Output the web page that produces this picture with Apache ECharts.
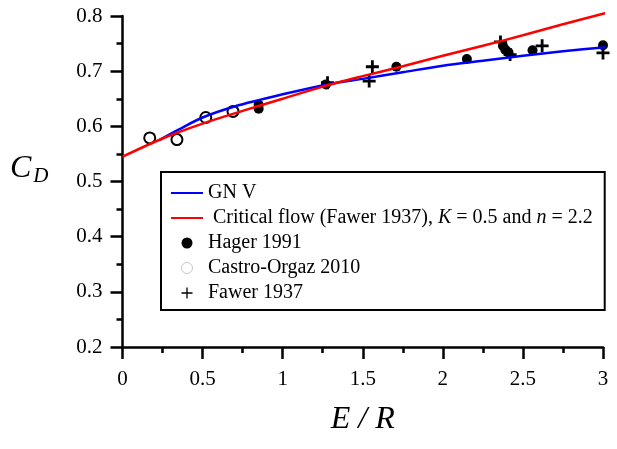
<!DOCTYPE html>
<html>
<head>
<meta charset="utf-8">
<script src="https://cdn.jsdelivr.net/npm/echarts@6/dist/echarts.min.js"></script>
<style>
  html, body { margin: 0; padding: 0; background: #fff; }
  #chart { width: 617px; height: 449px; }
</style>
</head>
<body>
<div id="chart"></div>
<script>
// GN V curve
const gnX = [0.23, 0.35, 0.5, 0.7, 1.0, 1.28, 1.5, 1.75, 2.0, 2.25, 2.5, 2.75, 3.0, 3.07];
const gnY = [0.575, 0.594, 0.616, 0.636, 0.658, 0.676, 0.686, 0.698, 0.710, 0.719, 0.728, 0.736, 0.743, 0.745];

// Critical flow (Fawer 1937)
const cfX = [0, 0.25, 0.5, 0.75, 1.0, 1.25, 1.5, 1.75, 2.0, 2.25, 2.5, 2.75, 3.0, 3.03];
const cfY = [0.545, 0.578, 0.605, 0.628, 0.650, 0.672, 0.691, 0.709, 0.728, 0.746, 0.765, 0.785, 0.804, 0.806];

// Hager 1991
const hagerX = [0.85, 0.85, 1.27, 1.71, 2.15, 2.375, 2.39, 2.41, 2.56, 3.0];
const hagerY = [0.639, 0.632, 0.676, 0.708, 0.722, 0.746, 0.739, 0.734, 0.738, 0.747];

// Castro-Orgaz 2010
const castroX = [0.17, 0.34, 0.52, 0.69];
const castroY = [0.579, 0.576, 0.616, 0.627];

// Fawer 1937
const fawerX = [1.28, 1.56, 1.54, 2.36, 2.42, 2.62, 3.0];
const fawerY = [0.679, 0.708, 0.682, 0.753, 0.730, 0.746, 0.733];

const zip = (xs, ys) => xs.map((x, i) => [x, ys[i]]);
const serif = 'Liberation Serif';
const noDot = { color: 'transparent', borderWidth: 0 };

const chart = echarts.init(document.getElementById('chart'));
chart.setOption({
  animation: false,
  backgroundColor: '#fff',
  grid: { left: 122.5, right: 14, top: 16, bottom: 102 },
  xAxis: {
    type: 'value', min: 0, max: 3, interval: 0.5,
    name: 'E / R', nameLocation: 'middle', nameGap: 57,
    nameTextStyle: { fontFamily: serif, fontSize: 32, fontStyle: 'italic', color: '#000' },
    axisLine: { onZero: false, lineStyle: { color: '#000', width: 2.5 } },
    axisTick: { length: 12, lineStyle: { color: '#000', width: 2.5 } },
    minorTick: { show: true, splitNumber: 2, length: 6, lineStyle: { color: '#000', width: 2.5 } },
    axisLabel: { fontFamily: serif, fontSize: 21, color: '#000', margin: 22 },
    splitLine: { show: false }
  },
  yAxis: {
    type: 'value', min: 0.2, max: 0.8, interval: 0.1,
    name: '{c|C}{d|D}', nameLocation: 'middle', nameRotate: 0, nameGap: 74,
    nameTextStyle: {
      padding: [0, 0, 26, 0],
      rich: {
        c: { fontFamily: serif, fontSize: 32, fontStyle: 'italic', color: '#000' },
        d: { fontFamily: serif, fontSize: 21, fontStyle: 'italic', color: '#000', padding: [16, 0, 0, 2] }
      }
    },
    axisLine: { show: true, onZero: false, lineStyle: { color: '#000', width: 2.5 } },
    axisTick: { show: true, length: 12, lineStyle: { color: '#000', width: 2.5 } },
    minorTick: { show: true, splitNumber: 2, length: 6, lineStyle: { color: '#000', width: 2.5 } },
    axisLabel: { fontFamily: serif, fontSize: 21, color: '#000', margin: 20, formatter: v => v.toFixed(1) },
    splitLine: { show: false }
  },
  legend: {
    orient: 'vertical', left: 161, top: 172,
    padding: [11, 12, 7, 9],
    backgroundColor: '#fff', borderColor: '#000', borderWidth: 2,
    itemWidth: 32, itemHeight: 11, itemGap: 5,
    textStyle: {
      fontFamily: serif, fontSize: 20, color: '#000', lineHeight: 20,
      rich: { i: { fontFamily: serif, fontSize: 20, fontStyle: 'italic', color: '#000' } }
    },
    formatter: name => name === 'Critical flow'
      ? ' Critical flow (Fawer 1937), {i|K} = 0.5 and {i|n} = 2.2'
      : name,
    data: [
      { name: 'GN V', itemStyle: noDot },
      { name: 'Critical flow', itemStyle: noDot },
      { name: 'Hager 1991' },
      { name: 'Castro-Orgaz 2010', itemStyle: { borderColor: '#c8c8c8', borderWidth: 1 } },
      { name: 'Fawer 1937', itemStyle: { borderWidth: 1.3 } }
    ]
  },
  series: [
    {
      name: 'GN V', type: 'line', data: zip(gnX, gnY), smooth: 0.3, symbol: 'none', clip: false,
      lineStyle: { color: '#0000ff', width: 2.5 }, itemStyle: { color: '#0000ff' }
    },
    {
      name: 'Critical flow', type: 'line', data: zip(cfX, cfY), smooth: 0.3, symbol: 'none', clip: false,
      lineStyle: { color: '#ff0000', width: 2.5 }, itemStyle: { color: '#ff0000' }
    },
    {
      name: 'Hager 1991', type: 'scatter', data: zip(hagerX, hagerY), symbol: 'circle', symbolSize: 10,
      itemStyle: { color: '#000', opacity: 1 }
    },
    {
      name: 'Castro-Orgaz 2010', type: 'scatter', data: zip(castroX, castroY), symbol: 'circle', symbolSize: 11,
      itemStyle: { color: '#fff', borderColor: '#000', borderWidth: 2, opacity: 1 }
    },
    {
      name: 'Fawer 1937', type: 'scatter', data: zip(fawerX, fawerY),
      symbol: 'path://M5,0L5,10M0,5L10,5', symbolSize: 13,
      itemStyle: { color: 'transparent', borderColor: '#000', borderWidth: 2.8, opacity: 1 }
    }
  ]
});
</script>
</body>
</html>
